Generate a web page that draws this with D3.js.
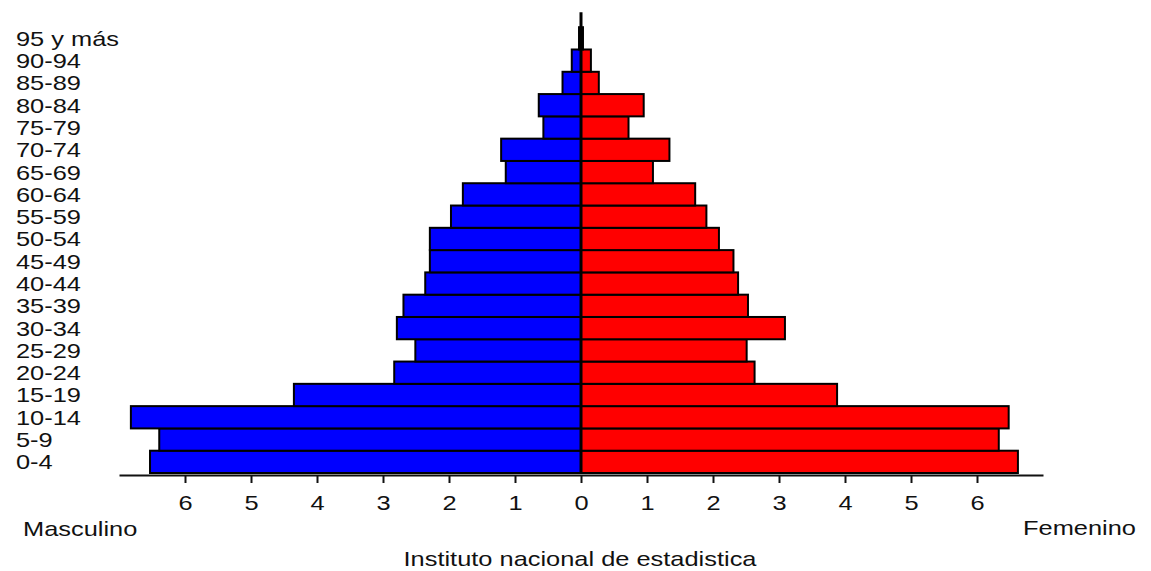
<!DOCTYPE html>
<html>
<head>
<meta charset="utf-8">
<script src="https://cdn.jsdelivr.net/npm/d3@7"></script>
<style>
    body { margin: 0; background: #fff; }
    text { font-family: "Liberation Sans", Arial, sans-serif; fill: #111; }
</style>
</head>
<body>
<svg id="chart" width="1151" height="571"></svg>
<script>
    // Age groups, bottom to top
    var ages = ["0-4", "5-9", "10-14", "15-19", "20-24", "25-29", "30-34", "35-39", "40-44",
        "45-49", "50-54", "55-59", "60-64", "65-69", "70-74", "75-79", "80-84", "85-89", "90-94", "95 y más"];

    // Percent of population
    var masculino = [6.53, 6.39, 6.82, 4.35, 2.83, 2.51, 2.79, 2.69, 2.36,
        2.29, 2.29, 1.97, 1.79, 1.14, 1.21, 0.57, 0.64, 0.28, 0.14, 0.03];
    var femenino = [6.62, 6.33, 6.48, 3.88, 2.63, 2.51, 3.09, 2.53, 2.38,
        2.31, 2.09, 1.90, 1.73, 1.09, 1.34, 0.72, 0.95, 0.27, 0.15, 0.03];

    var ticks = [-6, -5, -4, -3, -2, -1, 0, 1, 2, 3, 4, 5, 6];

    var stretch = "scale(1.21,1)";
    var svg = d3.select("#chart");

    var x = d3.scaleLinear().domain([-7, 7]).range([119, 1043]);
    var y = d3.scaleBand().domain(ages).range([473, 27.2]).padding(0);

    // Bars
    var rows = ages.map(function(a, i) { return { age: a, m: masculino[i], f: femenino[i] }; });

    svg.append("g").selectAll("rect")
        .data(rows)
        .enter()
        .append("rect")
        .attr("x", function(d) { return x(-d.m); })
        .attr("y", function(d) { return y(d.age); })
        .attr("width", function(d) { return x(0) - x(-d.m); })
        .attr("height", y.bandwidth())
        .attr("fill", "#0000ff")
        .attr("stroke", "#000")
        .attr("stroke-width", 2);

    svg.append("g").selectAll("rect")
        .data(rows)
        .enter()
        .append("rect")
        .attr("x", x(0))
        .attr("y", function(d) { return y(d.age); })
        .attr("width", function(d) { return x(d.f) - x(0); })
        .attr("height", y.bandwidth())
        .attr("fill", "#ff0000")
        .attr("stroke", "#000")
        .attr("stroke-width", 2);

    // Center line
    svg.append("line")
        .attr("x1", x(0)).attr("x2", x(0))
        .attr("y1", y.range()[1] - 15).attr("y2", y.range()[0])
        .attr("stroke", "#000")
        .attr("stroke-width", 3);

    // Age labels
    svg.append("g").selectAll("text")
        .data(ages)
        .enter()
        .append("text")
        .attr("transform", function(d) {
            return "translate(16," + (y(d) + y.bandwidth() / 2 + 7.5) + ") " + stretch;
        })
        .attr("font-size", "21px")
        .text(function(d) { return d; });

    // X axis
    var xAxis = d3.axisBottom(x)
        .tickValues(ticks)
        .tickFormat(function(d) { return Math.abs(d); })
        .tickSizeInner(8)
        .tickSizeOuter(0);

    var gx = svg.append("g")
        .attr("transform", "translate(0,475)")
        .call(xAxis);
    gx.select(".domain").attr("stroke", "#111").attr("stroke-width", 2);
    gx.selectAll(".tick line").attr("stroke", "#111").attr("stroke-width", 2);
    gx.selectAll(".tick text")
        .attr("y", 35)
        .attr("dy", 0)
        .attr("fill", "#111")
        .attr("font-size", "21px")
        .attr("font-family", "Liberation Sans, Arial, sans-serif")
        .attr("transform", stretch);

    // Captions
    svg.append("text")
        .attr("transform", "translate(23,536) " + stretch)
        .attr("font-size", "21px")
        .text("Masculino");

    svg.append("text")
        .attr("transform", "translate(1136,535) " + stretch)
        .attr("text-anchor", "end")
        .attr("font-size", "21px")
        .text("Femenino");

    svg.append("text")
        .attr("transform", "translate(580,566) " + stretch)
        .attr("text-anchor", "middle")
        .attr("font-size", "21px")
        .text("Instituto nacional de estadistica");
</script>
</body>
</html>
